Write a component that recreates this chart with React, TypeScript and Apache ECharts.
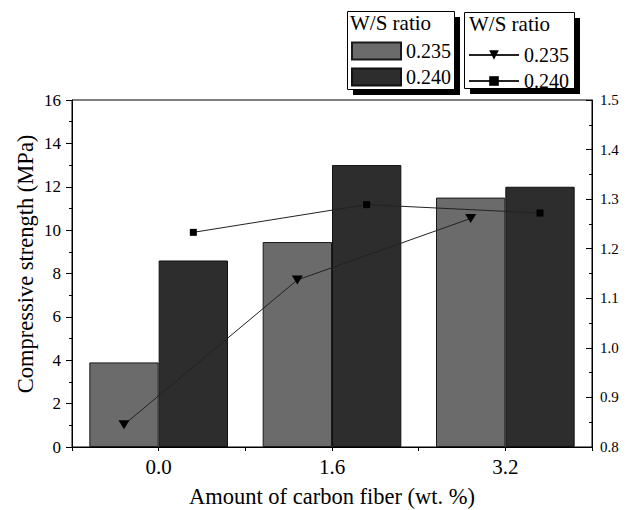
import React, { useEffect, useRef } from "react";
import * as echarts from "echarts";

const categories = ["0.0", "1.6", "3.2"];
const strength235 = [3.9, 9.45, 11.5];
const strength240 = [8.6, 13.0, 12.0];
const ratio235 = [0.845, 1.137, 1.261];
const ratio240 = [1.233, 1.289, 1.272];

const FONT = "Liberation Serif";

export default function App() {
  const ref = useRef<HTMLDivElement>(null);
  useEffect(() => {
    if (!ref.current) return;
    const chart = echarts.init(ref.current, null, { renderer: "svg" });
    const categoryGap = 0.2;
    const barShare = (1 - categoryGap) / 2;
    const offsets = [-barShare / 2, barShare / 2];
    const linePts = (vals: number[], k: number) => vals.map((v, i) => [i + offsets[k], v]);
    const txt = { fontFamily: FONT, color: "#000" };
    const legendItem = (name: string, left: number, top: number, w: number, h: number, icon?: string) => ({
      orient: "vertical", left, top, padding: 0, itemWidth: w, itemHeight: h,
      ...(icon ? { icon } : {}),
      data: [name], formatter: (n: string) => n.slice(1),
      textStyle: { ...txt, fontSize: 20, lineHeight: h }, selectedMode: false, z: 10,
    });
    chart.setOption({
      animation: false,
      backgroundColor: "#fff",
      grid: {
        left: 72, right: 39, top: 100, bottom: 63, outerBoundsMode: "none",
        show: true, borderColor: "#000", borderWidth: 1, backgroundColor: "transparent",
      },
      legend: [
        legendItem("b0.235", 351, 41, 49, 17, "rect"),
        legendItem("b0.240", 351, 67, 49, 17, "rect"),
        legendItem("l0.235", 468, 45, 50, 12),
        legendItem("l0.240", 468, 71, 50, 12),
      ],
      graphic: [
        { type: "rect", shape: { x: 353, y: 17, width: 107, height: 78 }, style: { fill: "#000" }, z: 0 },
        { type: "rect", shape: { x: 347.5, y: 11.5, width: 107, height: 78 }, style: { fill: "#fff", stroke: "#000", lineWidth: 1 }, z: 1 },
        { type: "text", x: 350, y: 12, style: { text: "W/S ratio", fontFamily: FONT, fontSize: 21, fill: "#000" }, z: 2 },
        { type: "rect", shape: { x: 470, y: 18, width: 110, height: 76 }, style: { fill: "#000" }, z: 0 },
        { type: "rect", shape: { x: 464.5, y: 12.5, width: 110, height: 76 }, style: { fill: "#fff", stroke: "#000", lineWidth: 1 }, z: 1 },
        { type: "text", x: 469, y: 13, style: { text: "W/S ratio", fontFamily: FONT, fontSize: 21, fill: "#000" }, z: 2 },
        {
          type: "text", x: 25, y: 264, rotation: Math.PI / 2,
          style: { text: "Compressive strength (MPa)", fontFamily: FONT, fontSize: 22.5, fill: "#000", align: "center", verticalAlign: "middle" },
          z: 2,
        },
      ],
      xAxis: [
        {
          type: "category", data: categories, position: "bottom",
          name: "Amount of carbon fiber (wt. %)", nameLocation: "middle", nameGap: 38,
          nameTextStyle: { ...txt, fontSize: 22.5 },
          axisLine: { onZero: false, lineStyle: { color: "#000", width: 1 } },
          axisTick: { alignWithLabel: true, length: 6, lineStyle: { color: "#000" } },
          axisLabel: { ...txt, fontSize: 21, margin: 9 },
          splitLine: { show: false },
        },
        {
          type: "value", min: -0.5, max: 2.5, interval: 0.5, position: "bottom",
          axisLine: { show: false, onZero: false },
          axisTick: { show: true, length: 4, lineStyle: { color: "#000" } },
          axisLabel: { show: false }, splitLine: { show: false },
        },
      ],
      yAxis: [
        {
          type: "value", min: 0, max: 16, interval: 2, position: "left",
          axisLine: { show: true, onZero: false, lineStyle: { color: "#000" } },
          axisTick: { show: true, length: 6, lineStyle: { color: "#000" } },
          minorTick: { show: true, splitNumber: 2, length: 3, lineStyle: { color: "#000" } },
          axisLabel: { ...txt, fontSize: 17, margin: 11 },
          splitLine: { show: false },
        },
        {
          type: "value", min: 0.8, max: 1.5, interval: 0.1, position: "right",
          axisLine: { show: true, onZero: false, lineStyle: { color: "#000" } },
          axisTick: { show: true, inside: true, length: 6, lineStyle: { color: "#000" } },
          minorTick: { show: true, splitNumber: 2, length: 3, lineStyle: { color: "#000" } },
          axisLabel: { ...txt, fontSize: 15, margin: 8, formatter: (v: number) => v.toFixed(1) },
          splitLine: { show: false },
        },
      ],
      series: [
        {
          name: "b0.235", type: "bar", data: strength235, xAxisIndex: 0, yAxisIndex: 0,
          barGap: "0%", barCategoryGap: categoryGap * 100 + "%",
          itemStyle: { color: "#6b6b6b", borderColor: "#1a1a1a", borderWidth: 1 },
        },
        {
          name: "b0.240", type: "bar", data: strength240, xAxisIndex: 0, yAxisIndex: 0,
          barGap: "0%", barCategoryGap: categoryGap * 100 + "%",
          itemStyle: { color: "#2d2d2d", borderColor: "#111", borderWidth: 1 },
        },
        {
          name: "l0.235", type: "line", data: linePts(ratio235, 0), xAxisIndex: 1, yAxisIndex: 1,
          symbol: "triangle", symbolRotate: 180, symbolSize: [11, 9],
          itemStyle: { color: "#000" }, lineStyle: { color: "#222", width: 1 }, z: 5,
        },
        {
          name: "l0.240", type: "line", data: linePts(ratio240, 1), xAxisIndex: 1, yAxisIndex: 1,
          symbol: "rect", symbolSize: 7,
          itemStyle: { color: "#000" }, lineStyle: { color: "#222", width: 1 }, z: 5,
        },
      ],
    });
    return () => chart.dispose();
  }, []);
  return <div ref={ref} style={{ width: 631, height: 510, position: "absolute", left: 0, top: 0 }} />;
}
